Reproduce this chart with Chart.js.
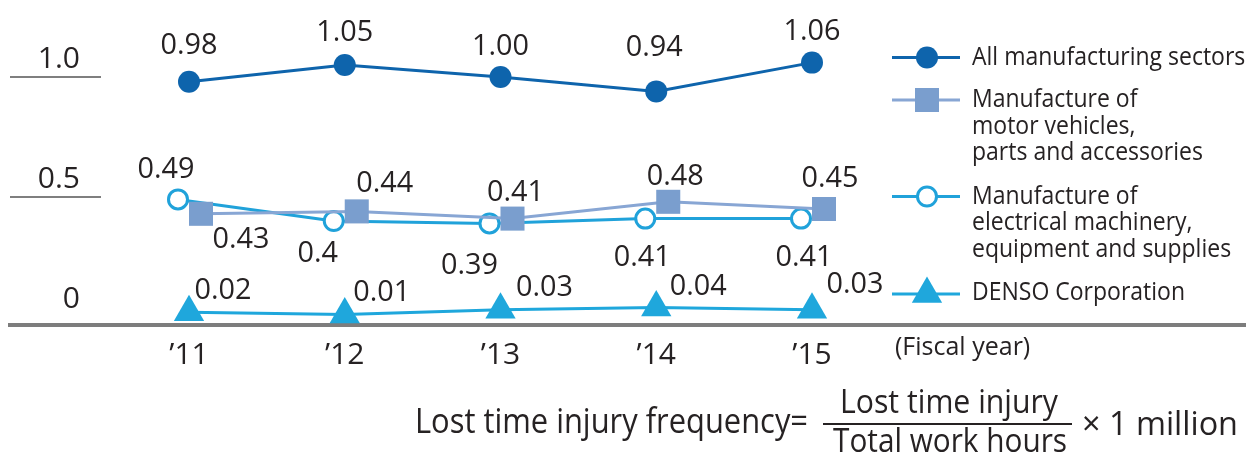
<!DOCTYPE html>
<html>
<head>
<meta charset="utf-8">
<title>Lost time injury frequency</title>
<script src="https://cdn.jsdelivr.net/npm/chart.js@4.4.1/dist/chart.umd.min.js"></script>
<style>
  html, body { margin: 0; padding: 0; background: #ffffff; }
  #wrap { width: 1251px; height: 454px; position: relative; }
  canvas { display: block; }
</style>
</head>
<body>
<div id="wrap"><canvas id="chart" width="1251" height="454"></canvas></div>
<script>
// Fiscal years and lost time injury frequency rates
const fiscalYears = [2011, 2012, 2013, 2014, 2015];
const yearLabels = ['’11', '’12', '’13', '’14', '’15'];
const allManufacturing = [0.98, 1.05, 1.00, 0.94, 1.06];
const motorVehicles = [0.43, 0.44, 0.41, 0.48, 0.45];
const electricalMachinery = [0.49, 0.4, 0.39, 0.41, 0.41];
const densoCorporation = [0.02, 0.01, 0.03, 0.04, 0.03];
const yTickValues = [0, 0.5, 1.0];
const yTickLabels = ['0', '0.5', '1.0'];
const seriesNames = [
  ['All manufacturing sectors'],
  ['Manufacture of', 'motor vehicles,', 'parts and accessories'],
  ['Manufacture of', 'electrical machinery,', 'equipment and supplies'],
  ['DENSO Corporation']
];

// Page geometry (pixels)
const CANVAS_H = 454;
const PLOT_LEFT = 10, PLOT_RIGHT = 1245;
const FIRST_YEAR_PX = 189, LAST_YEAR_PX = 812;
const AXIS_STUB_RIGHT = 101;
const PLOT_TOP = 30, PLOT_BOTTOM = 325;
const ZERO_PX = 317, PX_PER_UNIT = 240;

const FONT = "'Open Sans', 'Noto Sans', sans-serif";
const TEXT = '#262223';

// Scale ranges derived from the geometry above
const pxPerYear = (LAST_YEAR_PX - FIRST_YEAR_PX) / (fiscalYears[fiscalYears.length - 1] - fiscalYears[0]);
const xMin = fiscalYears[0] - (FIRST_YEAR_PX - PLOT_LEFT) / pxPerYear;
const xMax = fiscalYears[fiscalYears.length - 1] + (PLOT_RIGHT - LAST_YEAR_PX) / pxPerYear;
const yMin = -(PLOT_BOTTOM - ZERO_PX) / PX_PER_UNIT;
const yMax = (ZERO_PX - PLOT_TOP) / PX_PER_UNIT;

// Value label placement relative to each marker [dx, dy]
const labelOffsets = [
  [[0, -36], [0, -33], [0, -31], [-2, -44], [0, -31]],
  [[40, 26], [28, -28], [3, -26], [7, -25], [6, -31]],
  [[-12, -30], [-16, 32], [-20, 42], [-3, 39], [3, 39]],
  [[34, -22], [37, -22], [44, -22], [42, -21], [43, -25]]
];

const LEGEND = { lineFrom: 892, lineTo: 960, markerX: 927, textX: 972, rowsY: [57.5, 100, 196.5, 294], lineGap: 26.5 };

function toPoints(values) {
  return fiscalYears.map((year, i) => ({ x: year, y: values[i] }));
}

function drawText(ctx, text, x, y, size, align, baseline, opts) {
  ctx.save();
  ctx.font = size + 'px ' + FONT;
  ctx.fillStyle = TEXT;
  ctx.textAlign = align;
  ctx.textBaseline = baseline;
  const natural = ctx.measureText(text).width;
  let maxWidth = natural * ((opts && opts.scaleX) || 1);
  if (opts && opts.maxWidth) maxWidth = Math.min(natural, opts.maxWidth);
  ctx.fillText(text, x, y, maxWidth);
  ctx.restore();
}

// Nudges a series sideways so overlapping markers stay readable
const markerShift = {
  id: 'markerShift',
  afterDatasetsUpdate(chart) {
    chart.data.datasets.forEach((ds, i) => {
      const s = ds.shiftX || 0;
      if (!s) return;
      chart.getDatasetMeta(i).data.forEach(p => { p.x += s; });
    });
  }
};

const valueLabels = {
  id: 'valueLabels',
  afterDatasetsDraw(chart) {
    const ctx = chart.ctx;
    chart.data.datasets.forEach((ds, i) => {
      chart.getDatasetMeta(i).data.forEach((p, j) => {
        const v = ds.data[j].y;
        const text = ds.fixedDigits ? v.toFixed(ds.fixedDigits) : String(v);
        const off = labelOffsets[i][j];
        drawText(ctx, text, p.x + off[0], p.y + off[1], 30, 'center', 'middle', { scaleX: 0.96 });
      });
    });
  }
};

const sideLegend = {
  id: 'sideLegend',
  afterDraw(chart) {
    const ctx = chart.ctx;
    chart.data.datasets.forEach((ds, i) => {
      const y = LEGEND.rowsY[i];
      ctx.save();
      ctx.strokeStyle = ds.borderColor;
      ctx.lineWidth = ds.borderWidth;
      ctx.beginPath();
      ctx.moveTo(LEGEND.lineFrom, y);
      ctx.lineTo(LEGEND.lineTo, y);
      ctx.stroke();
      ctx.fillStyle = ds.pointBackgroundColor;
      ctx.strokeStyle = ds.pointBorderColor;
      ctx.lineWidth = ds.pointBorderWidth;
      Chart.helpers.drawPoint(ctx, {
        pointStyle: ds.pointStyle, radius: ds.pointRadius,
        borderWidth: ds.pointBorderWidth, rotation: 0
      }, LEGEND.markerX, y);
      ctx.restore();
      const textY = i === 3 ? y - 1 : y;
      seriesNames[i].forEach((line, k) => {
        drawText(ctx, line, LEGEND.textX, textY + k * LEGEND.lineGap, 25, 'left', 'middle', { scaleX: 0.92 });
      });
    });
  }
};

const notes = {
  id: 'notes',
  afterDraw(chart) {
    const ctx = chart.ctx;
    drawText(ctx, '(Fiscal year)', 895, 355, 25, 'left', 'alphabetic', { maxWidth: 138 });
    drawText(ctx, 'Lost time injury frequency=', 415, 433, 34, 'left', 'alphabetic', { maxWidth: 393 });
    drawText(ctx, 'Lost time injury', 949, 413, 33, 'center', 'alphabetic', { maxWidth: 218 });
    drawText(ctx, 'Total work hours', 950, 452, 33, 'center', 'alphabetic', { maxWidth: 234 });
    drawText(ctx, '× 1 million', 1082, 435, 33, 'left', 'alphabetic', { maxWidth: 156 });
    ctx.save();
    ctx.strokeStyle = TEXT;
    ctx.lineWidth = 2;
    ctx.beginPath();
    ctx.moveTo(823, 424);
    ctx.lineTo(1072, 424);
    ctx.stroke();
    ctx.restore();
  }
};

Chart.defaults.font.family = FONT;
Chart.defaults.color = TEXT;

new Chart(document.getElementById('chart'), {
  type: 'line',
  data: {
    datasets: [
      {
        label: seriesNames[0].join(' '),
        data: toPoints(allManufacturing),
        fixedDigits: 2,
        borderColor: '#0e64ac', backgroundColor: '#0e64ac', borderWidth: 3,
        pointStyle: 'circle', pointRadius: 11,
        pointBackgroundColor: '#0e64ac', pointBorderColor: '#0e64ac', pointBorderWidth: 0
      },
      {
        label: seriesNames[1].join(' '),
        data: toPoints(motorVehicles),
        shiftX: 12,
        borderColor: '#88a6d4', backgroundColor: '#7a9ece', borderWidth: 3,
        pointStyle: 'rect', pointRadius: 17,
        pointBackgroundColor: '#7a9ece', pointBorderColor: '#7a9ece', pointBorderWidth: 0
      },
      {
        label: seriesNames[2].join(' '),
        data: toPoints(electricalMachinery),
        shiftX: -11,
        borderColor: '#20a2da', backgroundColor: '#ffffff', borderWidth: 3,
        pointStyle: 'circle', pointRadius: 9.5,
        pointBackgroundColor: '#ffffff', pointBorderColor: '#20a2da', pointBorderWidth: 3
      },
      {
        label: seriesNames[3].join(' '),
        data: toPoints(densoCorporation),
        borderColor: '#1fa7dc', backgroundColor: '#1fa7dc', borderWidth: 3,
        pointStyle: 'triangle', pointRadius: 17.5,
        pointBackgroundColor: '#1fa7dc', pointBorderColor: '#1fa7dc', pointBorderWidth: 0
      }
    ]
  },
  options: {
    responsive: false,
    animation: false,
    events: [],
    layout: { padding: { left: PLOT_LEFT, right: 1251 - PLOT_RIGHT, top: PLOT_TOP, bottom: 0 } },
    elements: { line: { tension: 0, fill: false } },
    plugins: { legend: { display: false }, tooltip: { enabled: false } },
    scales: {
      x: {
        type: 'linear',
        position: 'bottom',
        fullSize: true,
        min: xMin,
        max: xMax,
        grid: { display: false },
        border: { display: true, color: '#7d7d7d', width: 4 },
        afterBuildTicks: (scale) => { scale.ticks = fiscalYears.map(v => ({ value: v })); },
        afterFit: (scale) => { scale.height = CANVAS_H - PLOT_BOTTOM; },
        ticks: {
          padding: 4, autoSkip: false, maxRotation: 0,
          font: { size: 30 }, color: TEXT,
          callback: (value, index) => yearLabels[index]
        }
      },
      y: {
        type: 'linear',
        position: 'left',
        min: yMin,
        max: yMax,
        afterBuildTicks: (scale) => { scale.ticks = yTickValues.map(v => ({ value: v })); },
        afterFit: (scale) => { scale.width = AXIS_STUB_RIGHT - PLOT_LEFT; },
        border: { display: false },
        grid: {
          drawOnChartArea: false,
          drawTicks: true,
          tickLength: AXIS_STUB_RIGHT - PLOT_LEFT,
          lineWidth: 2,
          color: (c) => (c.tick && c.tick.value === 0) ? 'rgba(0,0,0,0)' : '#7f7f7f'
        },
        ticks: {
          padding: -70, labelOffset: -18,
          font: { size: 30 }, color: TEXT,
          callback: (value, index) => yTickLabels[index]
        }
      }
    }
  },
  plugins: [markerShift, valueLabels, sideLegend, notes]
});
</script>
</body>
</html>
